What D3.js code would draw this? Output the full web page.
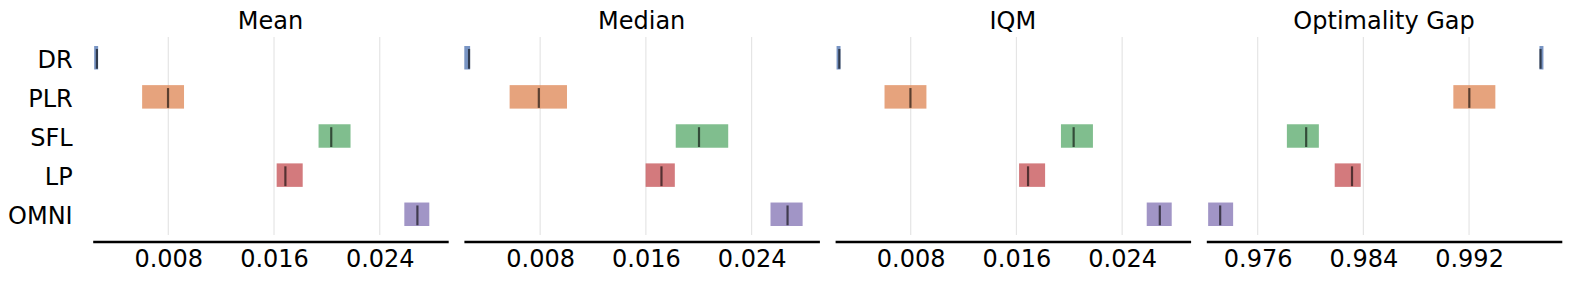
<!DOCTYPE html>
<html>
<head>
<meta charset="utf-8">
<script src="https://cdn.jsdelivr.net/npm/d3@7"></script>
<style>
  body { margin: 0; background: #fff; }
  text { font-family: "DejaVu Sans", sans-serif; fill: #000; }
</style>
</head>
<body>
<div id="chart"></div>
<script>
// size of SVG
var w = 1569;
var h = 281;

// algorithms, top to bottom
var algorithms = ["DR", "PLR", "SFL", "LP", "OMNI"];
// seaborn "deep" colours
var colors = ["#4C72B0", "#DD8452", "#55A868", "#C44E52", "#8172B3"];

var metrics = ["Mean", "Median", "IQM", "Optimality Gap"];

// interval estimates per metric, one entry per algorithm: lower, upper, point
var meanLow   = [0.00239, 0.00602, 0.01937, 0.01620, 0.02586];
var meanHigh  = [0.00269, 0.00919, 0.02179, 0.01817, 0.02775];
var meanPoint = [0.00260, 0.00798, 0.02033, 0.01686, 0.02685];

var medianLow   = [0.00226, 0.00569, 0.01826, 0.01598, 0.02543];
var medianHigh  = [0.00270, 0.01003, 0.02223, 0.01819, 0.02786];
var medianPoint = [0.00262, 0.00790, 0.02002, 0.01718, 0.02672];

var iqmLow   = [0.00239, 0.00602, 0.01937, 0.01620, 0.02586];
var iqmHigh  = [0.00269, 0.00919, 0.02179, 0.01817, 0.02775];
var iqmPoint = [0.00260, 0.00798, 0.02033, 0.01688, 0.02685];

var gapLow   = [0.99733, 0.99081, 0.97821, 0.98183, 0.97225];
var gapHigh  = [0.99763, 0.99399, 0.98063, 0.98380, 0.97414];
var gapPoint = [0.99741, 0.99202, 0.97967, 0.98314, 0.97316];

// tick values per panel
var ticksScore = [0.008, 0.016, 0.024];
var ticksGap = [0.976, 0.984, 0.992];

// x limits per panel
var xlims = [[0.00228, 0.02918], [0.00223, 0.02913], [0.00228, 0.02918], [0.97211, 0.99902]];

var lows = [meanLow, medianLow, iqmLow, gapLow];
var highs = [meanHigh, medianHigh, iqmHigh, gapHigh];
var points = [meanPoint, medianPoint, iqmPoint, gapPoint];
var ticks = [ticksScore, ticksScore, ticksScore, ticksGap];

var svg = d3.select("#chart")
  .append("svg")
  .attr("width", w)
  .attr("height", h)
  .attr("xmlns", "http://www.w3.org/2000/svg");

// layout of panels
var panelLeft = 92.7;
var panelStep = 371.2;
var panelWidth = 355.5;
var axisY = 241.5;
var fontSize = 24;

// row scale shared by all panels (matplotlib-like margins)
var y = d3.scaleLinear().domain([-0.53, 4.53]).range([37, 235]);
var rowH = y(1) - y(0);
var barH = 0.6;

for (var p = 0; p < metrics.length; p++) {
  var x0 = panelLeft + p * panelStep;
  var x = d3.scaleLinear().domain(xlims[p]).range([x0, x0 + panelWidth]);
  var g = svg.append("g").attr("class", "panel");

  // vertical grid
  g.selectAll(".grid").data(ticks[p]).enter().append("line")
    .attr("class", "grid")
    .attr("x1", function(d) { return x(d); })
    .attr("x2", function(d) { return x(d); })
    .attr("y1", y.range()[0])
    .attr("y2", y.range()[1])
    .attr("stroke", "#e5e5e5")
    .attr("stroke-width", 1.2);

  var rows = algorithms.map(function(a, i) {
    return { name: a, i: i, lo: lows[p][i], hi: highs[p][i], pt: points[p][i], color: colors[i] };
  });

  // interval bars
  g.selectAll(".bar").data(rows).enter().append("rect")
    .attr("class", "bar")
    .attr("x", function(d) { return x(d.lo); })
    .attr("width", function(d) { return x(d.hi) - x(d.lo); })
    .attr("y", function(d) { return y(d.i - barH / 2); })
    .attr("height", barH * rowH)
    .attr("fill", function(d) { return d.color; })
    .attr("fill-opacity", 0.75);

  // point estimates
  g.selectAll(".pt").data(rows).enter().append("line")
    .attr("class", "pt")
    .attr("x1", function(d) { return x(d.pt); })
    .attr("x2", function(d) { return x(d.pt); })
    .attr("y1", function(d) { return y(d.i - 6 * barH / 16); })
    .attr("y2", function(d) { return y(d.i + 7.5 * barH / 16); })
    .attr("stroke", "#000")
    .attr("stroke-opacity", 0.6)
    .attr("stroke-width", 2.2);

  // bottom axis
  var axis = d3.axisBottom(x)
    .tickValues(ticks[p])
    .tickFormat(d3.format(".3f"))
    .tickSize(0)
    .tickSizeOuter(0)
    .tickPadding(8);
  var ax = g.append("g")
    .attr("transform", "translate(0," + axisY + ")")
    .call(axis);
  ax.select(".domain").attr("stroke", "#000").attr("stroke-width", 2.6);
  ax.selectAll("text")
    .attr("font-family", "DejaVu Sans")
    .attr("font-size", fontSize)
    .attr("fill", "#000");

  // title
  g.append("text")
    .attr("x", x0 + panelWidth / 2)
    .attr("y", 29.3)
    .attr("text-anchor", "middle")
    .attr("font-size", fontSize)
    .text(metrics[p]);

  // algorithm labels only on first panel
  if (p === 0) {
    g.selectAll(".ylab").data(rows).enter().append("text")
      .attr("class", "ylab")
      .attr("x", x0 - 20)
      .attr("y", function(d) { return y(d.i) + 10; })
      .attr("text-anchor", "end")
      .attr("font-size", fontSize)
      .text(function(d) { return d.name; });
  }
}
</script>
</body>
</html>
